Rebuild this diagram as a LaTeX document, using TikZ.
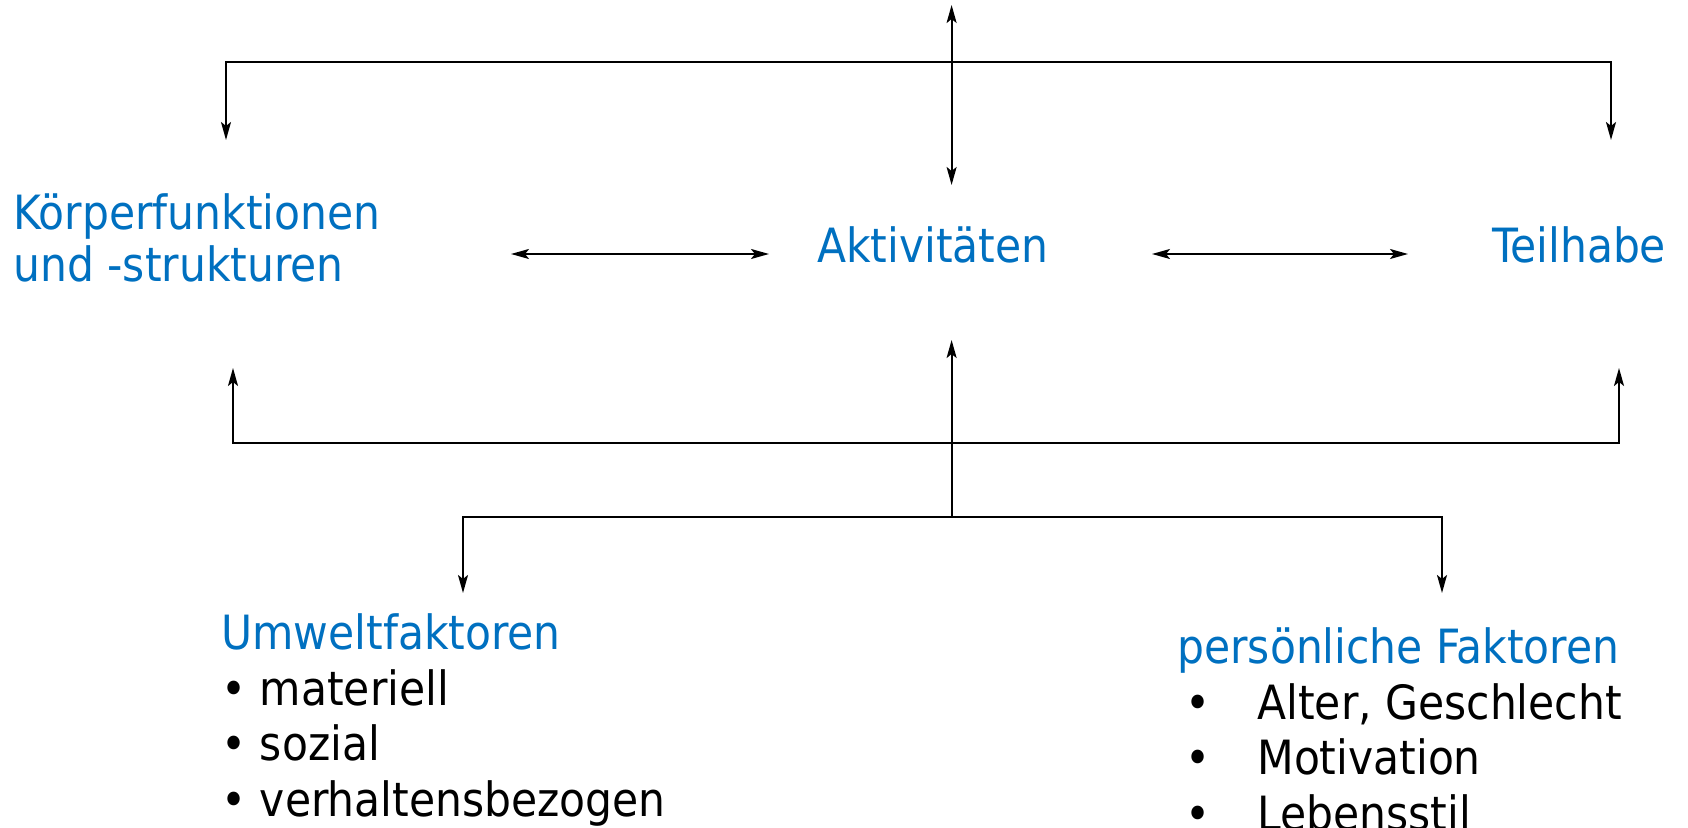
\documentclass[tikz,border=0pt]{standalone}
\usepackage{fontspec}
\setmainfont{DejaVu Sans Condensed}
\usetikzlibrary{arrows.meta, positioning}
\definecolor{icfblau}{RGB}{0,112,192}

\begin{document}
\begin{tikzpicture}[x=0.5pt,y=-0.5pt,
    titel/.style={text=icfblau,inner sep=0pt,align=left,font=\fontsize{23.6}{26}\selectfont},
    liste/.style={inner sep=0pt,align=left,font=\fontsize{23.6}{27.7}\selectfont},
    pfeil/.style={line width=1pt,-{Stealth[length=9pt,width=5pt,inset=2pt]}},
    dpfeil/.style={line width=1pt,{Stealth[length=9pt,width=5pt,inset=2pt]}-{Stealth[length=9pt,width=5pt,inset=2pt]}}]
    \clip (0,0) rectangle (1688,828);

    % Komponenten
    \node[titel,anchor=base west] (koerper) at (13,282) {Körperfunktionen\\und -strukturen};
    \node[titel,anchor=base] (aktiv) at (933,263) {Aktivitäten};
    \node[titel,anchor=base west] (teil) at (1492,263) {Teilhabe};

    % Kontextfaktoren
    \node[liste,anchor=base west] (umwelt) at (221,816) {\textcolor{icfblau}{Umweltfaktoren}\\• materiell\\• sozial\\• verhaltensbezogen};
    \node[liste,anchor=base west] (pers) at (1177,830) {\textcolor{icfblau}{persönliche Faktoren}\\\makebox[40pt][l]{\,•}Alter, Geschlecht\\\makebox[40pt][l]{\,•}Motivation\\\makebox[40pt][l]{\,•}Lebensstil};

    % Verteiler oben
    \coordinate (oben) at (951.6,5);
    \coordinate (aktiv-oben) at (951.6,185);
    \coordinate (vo-l) at (226,62);
    \coordinate (vo-r) at (1611,62);
    \coordinate (koerper-oben) at (226,140);
    \coordinate (teil-oben) at (1611,140);
    \draw[dpfeil] (oben) -- (aktiv-oben);
    \draw[dpfeil] (koerper-oben) -- (vo-l) -- (vo-r) -- (teil-oben);

    % Wechselwirkungen
    \coordinate (kw-l) at (511,254);
    \coordinate (kw-r) at (769,254);
    \coordinate (tw-l) at (1152,254);
    \coordinate (tw-r) at (1408,254);
    \draw[dpfeil] (kw-l) -- (kw-r);
    \draw[dpfeil] (tw-l) -- (tw-r);

    % Verteiler unten
    \coordinate (vu) at (951.6,517);
    \coordinate (aktiv-unten) at (951.6,340);
    \coordinate (vm-l) at (233,443);
    \coordinate (vm-r) at (1619,443);
    \coordinate (koerper-unten) at (233,368);
    \coordinate (teil-unten) at (1619,368);
    \coordinate (vb-l) at (463,517);
    \coordinate (vb-r) at (1442,517);
    \coordinate (umwelt-oben) at (463,593);
    \coordinate (pers-oben) at (1442,593);
    \draw[pfeil] (vu) -- (aktiv-unten);
    \draw[dpfeil] (koerper-unten) -- (vm-l) -- (vm-r) -- (teil-unten);
    \draw[dpfeil] (umwelt-oben) -- (vb-l) -- (vb-r) -- (pers-oben);
\end{tikzpicture}
\end{document}
